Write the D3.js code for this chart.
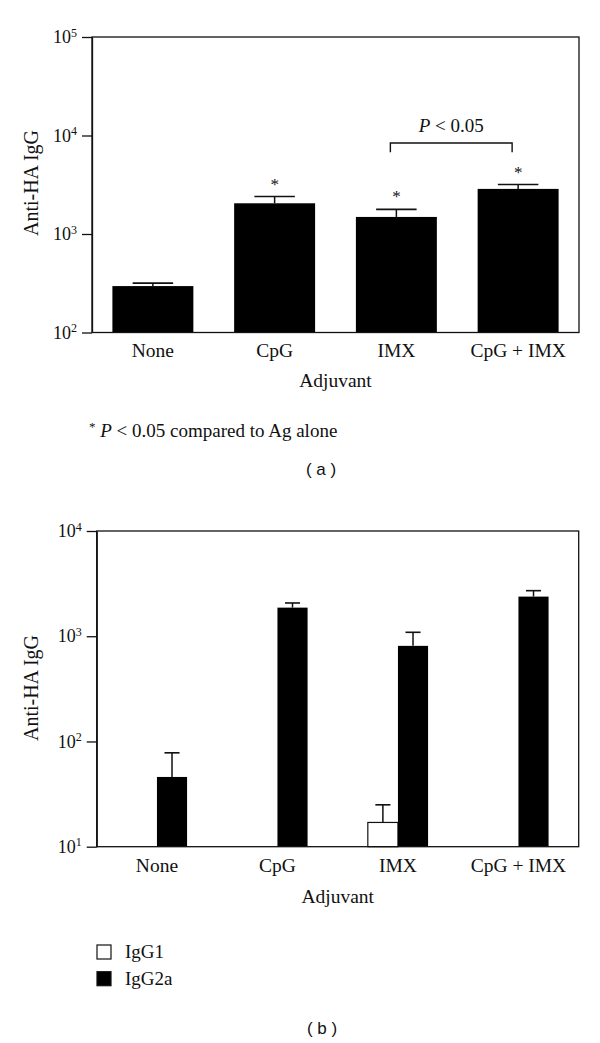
<!DOCTYPE html>
<html>
<head>
<meta charset="utf-8">
<script src="https://cdn.jsdelivr.net/npm/d3@7"></script>
<style>
  body { margin: 0; background: #fff; }
  svg text { font-family: "Liberation Serif", "Times New Roman", serif; fill: #111; }
  svg .panelTag { font-family: "Liberation Sans", Arial, sans-serif; }
</style>
</head>
<body>
<div id="chart"></div>
<script>
// categories shared by both panels
const categories = ["None", "CpG", "IMX", "CpG + IMX"];

// panel (a): total anti-HA IgG, mean and SEM (upper whisker)
const totalMean = [296, 2050, 1490, 2870];
const totalErr = [21, 350, 290, 310];
const totalStar = [false, true, true, true];

// panel (b): IgG subclasses
const subclasses = ["IgG1", "IgG2a"];
const igg1Mean = [null, null, 17, null];
const igg1Err = [null, null, 8, null];
const igg2aMean = [46, 1870, 810, 2380];
const igg2aErr = [32, 200, 280, 330];

const ticksA = [100, 1000, 10000, 100000];
const ticksB = [10, 100, 1000, 10000];

const width = 600, height = 1043;
const ink = "#111";

const svg = d3.select("#chart").append("svg")
    .attr("width", width)
    .attr("height", height);

// log tick label as 10 with a superscript exponent
function powerLabels(g) {
    g.selectAll(".tick text").each(function(d) {
        const t = d3.select(this);
        t.text("10").style("font-size", "18px");
        t.append("tspan")
            .attr("dy", "-0.55em")
            .style("font-size", "12px")
            .text(Math.round(Math.log10(d)));
    });
}

function drawFrame(g, x, y, box, ticks) {
    // frame
    g.append("rect")
        .attr("x", box.left).attr("y", box.top)
        .attr("width", box.right - box.left)
        .attr("height", box.bottom - box.top)
        .attr("fill", "none")
        .attr("stroke", ink)
        .attr("stroke-width", 1.3);

    // y axis
    g.append("g")
        .attr("class", "yAxis")
        .attr("transform", `translate(${box.left},0)`)
        .call(d3.axisLeft(y).tickValues(ticks).tickSize(10).tickSizeOuter(0).tickPadding(5))
        .call(a => a.select(".domain").attr("stroke", ink).attr("stroke-width", 1.3))
        .call(a => a.selectAll(".tick line").attr("stroke", ink).attr("stroke-width", 1.3))
        .call(a => a.attr("font-family", null).attr("font-size", null))
        .call(powerLabels);

    // x axis (category names only)
    g.append("g")
        .attr("class", "xAxis")
        .attr("transform", `translate(0,${box.bottom})`)
        .call(d3.axisBottom(x).tickSize(0).tickPadding(11))
        .call(a => a.select(".domain").remove())
        .call(a => a.attr("font-family", null).attr("font-size", null))
        .call(a => a.selectAll(".tick text").style("font-size", "19.5px"));
}

function errorBar(g, cx, capW, y0, y1) {
    g.append("line")
        .attr("x1", cx).attr("x2", cx)
        .attr("y1", y0).attr("y2", y1)
        .attr("stroke", ink).attr("stroke-width", 1.5);
    g.append("line")
        .attr("x1", cx - capW / 2).attr("x2", cx + capW / 2)
        .attr("y1", y1).attr("y2", y1)
        .attr("stroke", ink).attr("stroke-width", 1.6);
}

function yLabel(g, x, y) {
    g.append("text")
        .attr("transform", `translate(${x},${y}) rotate(-90)`)
        .attr("text-anchor", "middle")
        .style("font-size", "20px")
        .text("Anti-HA IgG");
}

/*******************
***** PANEL A *****
*******************/
const boxA = {left: 92, right: 579, top: 37, bottom: 332.5};
const xA = d3.scaleBand()
    .domain(categories)
    .range([boxA.left, boxA.right])
    .paddingInner(0.335)
    .paddingOuter(0.1675);
const yA = d3.scaleLog().domain([100, 100000]).range([boxA.bottom, boxA.top]);

const gA = svg.append("g").attr("id", "panelA");

const rowsA = categories.map((c, i) => ({cat: c, mean: totalMean[i], err: totalErr[i], star: totalStar[i]}));

gA.selectAll(".bar")
    .data(rowsA)
    .enter()
    .append("rect")
    .attr("class", "bar")
    .attr("x", d => xA(d.cat))
    .attr("y", d => yA(d.mean))
    .attr("width", xA.bandwidth())
    .attr("height", d => boxA.bottom - yA(d.mean))
    .attr("fill", "#000");

rowsA.forEach(d => {
    const cx = xA(d.cat) + xA.bandwidth() / 2;
    errorBar(gA, cx, xA.bandwidth() / 2, yA(d.mean), yA(d.mean + d.err));
    if (d.star) {
        gA.append("text")
            .attr("x", cx)
            .attr("y", yA(d.mean + d.err) - 7)
            .attr("text-anchor", "middle")
            .style("font-size", "17px")
            .text("*");
    }
});

drawFrame(gA, xA, yA, boxA, ticksA);
yLabel(gA, 38, 183);

// significance bracket IMX vs CpG + IMX
const bx1 = xA("IMX") + xA.bandwidth() / 2 - 6;
const bx2 = xA("CpG + IMX") + xA.bandwidth() / 2 - 6;
const bTop = yA(8400), bDrop = yA(6750);
gA.append("path")
    .attr("d", `M${bx1},${bDrop}V${bTop}H${bx2}V${bDrop}`)
    .attr("fill", "none")
    .attr("stroke", ink)
    .attr("stroke-width", 1.4);
const pText = gA.append("text")
    .attr("x", (bx1 + bx2) / 2)
    .attr("y", bTop - 11)
    .attr("text-anchor", "middle")
    .style("font-size", "19px");
pText.append("tspan").style("font-style", "italic").text("P");
pText.append("tspan").text(" < 0.05");

gA.append("text")
    .attr("x", (boxA.left + boxA.right) / 2)
    .attr("y", 387)
    .attr("text-anchor", "middle")
    .style("font-size", "19.5px")
    .text("Adjuvant");

const foot = gA.append("text")
    .attr("x", 89)
    .attr("y", 437)
    .style("font-size", "19px");
foot.append("tspan").style("font-size", "13px").attr("dy", "-6").text("*");
foot.append("tspan").attr("dy", "6").text(" ");
foot.append("tspan").style("font-style", "italic").text("P");
foot.append("tspan").text(" < 0.05 compared to Ag alone");

svg.append("text")
    .attr("class", "panelTag")
    .attr("x", 321)
    .attr("y", 475)
    .attr("text-anchor", "middle")
    .style("font-size", "17px")
    .text("( a )");

/*******************
***** PANEL B *****
*******************/
const boxB = {left: 96.7, right: 578.7, top: 531, bottom: 846.7};
const xB = d3.scaleBand()
    .domain(categories)
    .range([boxB.left, boxB.right])
    .paddingInner(0.5)
    .paddingOuter(0.25);
const xSub = d3.scaleBand().domain(subclasses).range([0, xB.bandwidth()]);
const yB = d3.scaleLog().domain([10, 10000]).range([boxB.bottom, boxB.top]);

const gB = svg.append("g").attr("id", "panelB");

const rowsB = [];
categories.forEach((c, i) => {
    if (igg1Mean[i] != null) rowsB.push({cat: c, sub: "IgG1", mean: igg1Mean[i], err: igg1Err[i]});
    if (igg2aMean[i] != null) rowsB.push({cat: c, sub: "IgG2a", mean: igg2aMean[i], err: igg2aErr[i]});
});

const subFill = {IgG1: "#fff", IgG2a: "#000"};

gB.selectAll(".bar")
    .data(rowsB)
    .enter()
    .append("rect")
    .attr("class", "bar")
    .attr("x", d => xB(d.cat) + xSub(d.sub))
    .attr("y", d => yB(d.mean))
    .attr("width", xSub.bandwidth())
    .attr("height", d => boxB.bottom - yB(d.mean))
    .attr("fill", d => subFill[d.sub])
    .attr("stroke", d => d.sub === "IgG1" ? ink : "none")
    .attr("stroke-width", 1.2);

rowsB.forEach(d => {
    const cx = xB(d.cat) + xSub(d.sub) + xSub.bandwidth() / 2;
    errorBar(gB, cx, xSub.bandwidth() / 2, yB(d.mean), yB(d.mean + d.err));
});

drawFrame(gB, xB, yB, boxB, ticksB);
yLabel(gB, 38, 688);

gB.append("text")
    .attr("x", (boxB.left + boxB.right) / 2)
    .attr("y", 903)
    .attr("text-anchor", "middle")
    .style("font-size", "19.5px")
    .text("Adjuvant");

// legend
const legend = gB.selectAll(".legendItem")
    .data(subclasses)
    .enter()
    .append("g")
    .attr("class", "legendItem")
    .attr("transform", (d, i) => `translate(97,${945 + i * 26.7})`);
legend.append("rect")
    .attr("width", 14).attr("height", 14)
    .attr("fill", d => subFill[d])
    .attr("stroke", ink)
    .attr("stroke-width", 1.2);
legend.append("text")
    .attr("x", 28)
    .attr("y", 13)
    .style("font-size", "19px")
    .text(d => d);

svg.append("text")
    .attr("class", "panelTag")
    .attr("x", 322)
    .attr("y", 1034)
    .attr("text-anchor", "middle")
    .style("font-size", "17px")
    .text("( b )");
</script>
</body>
</html>
